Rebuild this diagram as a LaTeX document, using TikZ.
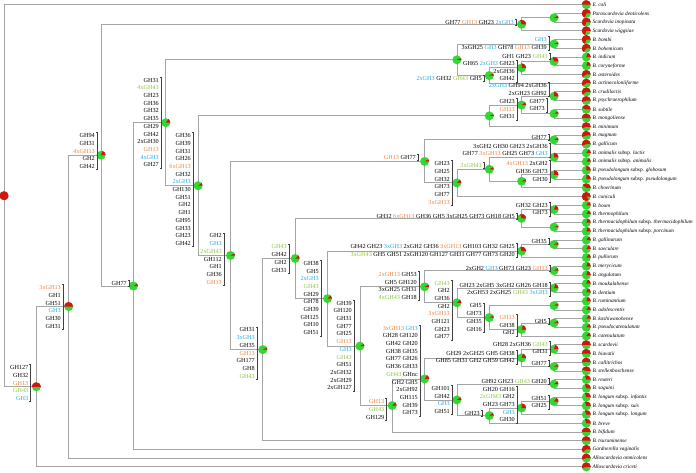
\documentclass[tikz,border=0pt]{standalone}
\usepackage{fontspec}
\setmainfont{Liberation Serif}
\usepackage{xcolor}
\usepackage{tikz}
\usetikzlibrary{positioning, backgrounds}

\definecolor{piegreen}{RGB}{52,214,52}
\definecolor{piered}{RGB}{214,18,18}
\definecolor{ghorange}{RGB}{238,128,58}
\definecolor{ghgreen}{RGB}{140,196,64}
\definecolor{ghblue}{RGB}{38,168,224}
\definecolor{branchgray}{RGB}{165,165,165}

\newcommand{\ghO}[1]{\textcolor{ghorange}{#1}}
\newcommand{\ghG}[1]{\textcolor{ghgreen}{#1}}
\newcommand{\ghB}[1]{\textcolor{ghblue}{#1}}

\begin{document}
\begin{tikzpicture}[
    x=1pt, y=-1pt,
    clade/.style={circle, inner sep=0pt, minimum size=9pt},
    branch/.style={draw=branchgray, line width=0.8pt},
    ghlist/.style={anchor=east, align=right, inner xsep=0pt, inner ysep=0.8pt, font=\fontsize{6.2}{7.7}\selectfont},
    bracket/.style={draw=black!75, line width=0.45pt},
    taxon/.style={anchor=west, inner sep=0pt, font=\fontsize{5.3}{6}\selectfont\itshape}
]
    \useasboundingbox (0,0) rectangle (696,473);

    % Taxa (tips) with their pies
    \foreach \name/\red [count=\i] in {
        E. coli/50, Parascardovia denticolens/70, Scardovia inopinata/70, Scardovia wiggsiae/70,
        B. bombi/70, B. bohemicum/65, B. indicum/20, B. coryneforme/20, B. asteroides/60,
        B. actinocoloniiforme/60, B. crudilactis/60, B. psychraerophilum/55, B. subtile/45,
        B. mongoliense/50, B. minimum/55, B. magnum/55, B. gallicum/55,
        B. animalis \textup{subsp.} lactis/15, B. animalis \textup{subsp.} animalis/15,
        B. pseudolongum \textup{subsp.} globosum/25, B. pseudolongum \textup{subsp.} pseudolongum/25,
        B. choerinum/40, B. cuniculi/85, B. boum/15, B. thermophilum/15,
        B. thermacidophilum \textup{subsp.} thermacidophilum/20, B. thermacidophilum \textup{subsp.} porcinum/20,
        B. gallinarum/15, B. saeculare/15, B. pullorum/15, B. merycicum/20, B. angulatum/20,
        B. moukalabense/20, B. dentium/20, B. ruminantium/20, B. adolescentis/15,
        B. kashiwanohense/15, B. pseudocatenulatum/15, B. catenulatum/15, B. scardovii/50,
        B. biavatii/50, B. callitrichos/50, B. stellenboschense/45, B. reuteri/30, B. saguini/30,
        B. longum \textup{subsp.} infantis/30, B. longum \textup{subsp.} suis/30,
        B. longum \textup{subsp.} longum/30, B. breve/30, B. bifidum/50, B. tsuruminense/50,
        Gardnerella vaginalis/60, Alloscardovia omnicolens/55, Alloscardovia criceti/55} {
        \node[clade] (l\i) at (586.3,{4.7+8.72*(\i-1)}) {};
        \node[taxon, right=1.3pt of l\i] (t\i) {\name};
        \fill[piegreen] (l\i.center) circle (4.5pt);
        \fill[piered] (l\i.center) -- ++(4.5pt,0pt) arc[start angle=0, end angle={3.6*\red}, radius=4.5pt] -- cycle;
    }

    % Internal nodes with their pies
    \foreach \n/\x/\y/\red in {
        nR/4/195.7/100, nA/36.4/386.8/50, nB/68.7/306.6/50, nD/101.1/155.2/20,
        nE/133.4/286.0/8, nF/521.6/24.3/30, nG/554/17.8/8, nH/165.8/122.7/15,
        nI/456.9/59.8/6, nK/554/44/6, nL/489.3/75.6/8, nM/521.6/67.9/25, nN/554/61.4/30,
        nJ/198.1/185.7/10, nS/489.3/115.9/6, nP/521.6/105/10, nO/554/96.3/25, nQ/554/113.7/8,
        nU/230.5/255.5/8, nV/424.6/161.4/8, nX/554/139.9/8, nY/456.9/182.9/12,
        nZ/489.3/169.3/8, nAA/554/157.3/25, nBB/521.6/181.3/8, nCC/554/174.8/25,
        nW/262.8/349.6/8, nGG/295.2/258.5/12, nDD/521.6/218.4/30, nEE/554/209.7/20,
        nFF/554/227.1/6, nHH/327.5/298.6/12, nJJ/521.6/251.1/30, nKK/554/244.5/8,
        nII/359.9/346.1/8, nMM/424.6/286.8/8, nNN/554/270.7/10, nOO/456.9/302.8/12,
        nPP/554/288.1/20, nQQ/489.3/317.6/8, nRR/554/305.6/8, nSS/521.6/329.5/20,
        nTT/554/323/8, nLL/392.2/405.5/12, nUU/424.6/378.9/15, nVV/521.6/357.9/20,
        nWW/554/349.2/20, nXX/554/366.6/8, nYY/456.9/399.9/10, nZZ/554/384.1/10,
        nAB/489.3/415.6/10, nAC/521.6/408/25, nAD/554/401.5/15} {
        \node[clade] (\n) at (\x,\y) {};
        \fill[piegreen] (\n.center) circle (4.5pt);
        \fill[piered] (\n.center) -- ++(4.5pt,0pt) arc[start angle=0, end angle={3.6*\red}, radius=4.5pt] -- cycle;
    }

    % Branches
    \begin{scope}[on background layer]
    \foreach \p/\c in {
        nR/l1, nR/nA, nA/nB, nA/l54, nB/nD, nB/l53, nD/nF, nD/nE, nF/nG, nF/l4, nG/l2, nG/l3,
        nE/nH, nE/l52, nH/nI, nH/nJ, nI/nK, nI/nL, nK/l5, nK/l6, nL/nM, nL/l10, nM/nN, nM/l9,
        nN/l7, nN/l8, nJ/nS, nJ/nU, nS/nP, nS/l15, nP/nO, nP/nQ, nO/l11, nO/l12, nQ/l13, nQ/l14,
        nU/nV, nU/nW, nV/nX, nV/nY, nX/l16, nX/l17, nY/nZ, nY/l23, nZ/nAA, nZ/nBB, nAA/l18,
        nAA/l19, nBB/nCC, nBB/l22, nCC/l20, nCC/l21, nW/nGG, nW/l51, nGG/nDD, nGG/nHH,
        nDD/nEE, nDD/nFF, nEE/l24, nEE/l25, nFF/l26, nFF/l27, nHH/nJJ, nHH/nII, nJJ/nKK,
        nJJ/l30, nKK/l28, nKK/l29, nII/nMM, nII/nLL, nMM/nNN, nMM/nOO, nNN/l31, nNN/l32,
        nOO/nPP, nOO/nQQ, nPP/l33, nPP/l34, nQQ/nRR, nQQ/nSS, nRR/l35, nRR/l36, nSS/nTT,
        nSS/l39, nTT/l37, nTT/l38, nLL/nUU, nLL/l50, nUU/nVV, nUU/nYY, nVV/nWW, nVV/nXX,
        nWW/l40, nWW/l41, nXX/l42, nXX/l43, nYY/nZZ, nYY/nAB, nZZ/l44, nZZ/l45, nAB/nAC,
        nAB/l49, nAC/nAD, nAC/l48, nAD/l46, nAD/l47}
        \draw[branch] (\p.center) |- (\c.center);
    \end{scope}

    % Gene family gains
    \node[ghlist] (gA) at (28.5,383) {GH127\\GH32\\\ghO{GH13}\\\ghG{GH43}\\\ghB{GH3}};
    \node[ghlist] (gB) at (61,307) {\ghO{3xGH13}\\GH1\\GH51\\\ghB{GH3}\\GH30\\GH31};
    \node[ghlist] (gD) at (95,151) {GH94\\GH31\\\ghO{4xGH13}\\GH2\\GH42};
    \node[ghlist] (gE) at (127,283) {GH77};
    \node[ghlist] (gH) at (159,122.5) {GH31\\\ghG{4xGH43}\\GH23\\GH36\\GH32\\GH35\\GH29\\GH42\\2xGH30\\\ghO{GH13}\\\ghB{4xGH3}\\GH27};
    \node[ghlist] (gJ) at (191,189.5) {GH36\\GH39\\GH31\\GH26\\\ghO{6xGH13}\\GH32\\\ghB{2xGH3}\\GH130\\GH51\\GH2\\GH1\\GH95\\GH33\\GH23\\GH42};
    \node[ghlist] (gU) at (222,259) {GH2\\\ghB{GH3}\\\ghG{2xGH43}\\GH112\\GH1\\GH36\\\ghO{GH13}};
    \node[ghlist] (gW) at (255,353) {GH31\\\ghB{3xGH3}\\GH35\\\ghO{GH13}\\GH177\\GH8\\\ghG{GH43}};
    \node[ghlist] (gGG) at (287,258.5) {\ghG{GH43}\\GH42\\GH2\\GH31};
    \node[ghlist] (gHH) at (319,298) {GH38\\GH5\\\ghB{2xGH3}\\\ghG{GH43}\\GH29\\GH78\\GH39\\GH125\\GH10\\GH51};
    \node[ghlist] (gII) at (352,345.5) {GH39\\GH120\\GH31\\GH77\\GH25\\\ghO{GH13}\\\ghB{GH3}\\\ghG{GH43}\\GH51\\2xGH32\\2xGH29\\2xGH127};
    \node[ghlist] (gLL) at (384.5,409.5) {\ghO{GH13}\\\ghG{GH43}\\GH129};
    \node[ghlist] (gUU) at (418,370.5) {\ghO{3xGH13} \ghB{GH3}\\GH28 GH120\\GH42 GH20\\GH38 GH35\\GH77 GH26\\GH36 GH33\\\ghG{GH43} GHnc\\GH2 GH5\\2xGH92\\GH115\\GH39\\GH73};
    \node[ghlist] (gMM) at (417,286) {\ghO{2xGH13} GH53\\GH5 GH120\\3xGH25 GH31\\\ghG{4xGH43} GH18};
    \node[ghlist] (gV) at (416,157) {\ghO{GH13} GH77};
    \node[ghlist] (gY) at (450,183) {GH23\\GH25\\GH32\\GH73\\GH77\\\ghO{3xGH13}};
    \node[ghlist] (gZ) at (482,165) {\ghG{3xGH43}};
    \node[ghlist] (gAA) at (548,150) {3xGH2 GH30 GH23 2xGH36\\GH77 \ghO{3xGH13} GH25 GH73 \ghB{GH3}};
    \node[ghlist] (gCC) at (548,171.5) {\ghO{4xGH13} 2xGH2\\GH36 GH73\\GH30};
    \node[ghlist] (gX) at (547,137) {GH77};
    \node[ghlist] (gK) at (547,43.5) {\ghB{GH3}\\3xGH25 \ghB{GH3} GH78 \ghO{GH13} GH39};
    \node[ghlist] (gN) at (548,56) {GH1 GH23 \ghG{GH43}};
    \node[ghlist] (gM) at (515,71) {GH65 \ghB{2xGH3} GH23\\2xGH36\\GH42};
    \node[ghlist] (gL) at (482,78.5) {\ghB{2xGH3} GH32 \ghG{GH43} GH5};
    \node[ghlist] (gO) at (547,89.5) {\ghB{2xGH3} GH94 2xGH36\\2xGH23 GH92};
    \node[ghlist] (gP) at (515,109) {GH23\\\ghO{GH13}\\GH31};
    \node[ghlist] (gQ) at (545,105) {GH77\\GH73};
    \node[ghlist] (gF) at (514,22) {GH77 \ghO{GH13} GH23 \ghB{2xGH3}};
    \node[ghlist] (gDD) at (515,216) {GH32 \ghO{6xGH13} GH36 GH5 3xGH25 GH73 GH18 GH5};
    \node[ghlist] (gEE) at (548,209) {GH32 GH23\\GH73};
    \node[ghlist] (gJJ) at (515,250.5) {GH42 GH23 \ghB{3xGH3} 2xGH2 GH36 \ghO{3xGH13} GH103 GH32 GH25\\\ghG{3xGH43} GH5 GH51 2xGH120 GH127 GH31 GH77 GH73 GH20};
    \node[ghlist] (gKK) at (547,241.5) {GH35};
    \node[ghlist] (gNN) at (548,268) {2xGH2 \ghB{GH3} GH73 GH23 \ghO{GH13}};
    \node[ghlist] (gOO) at (450,310) {\ghG{GH43}\\GH2\\GH36\\GH2\\\ghO{3xGH13}\\GH121\\GH23\\GH77};
    \node[ghlist] (gPP) at (548,289) {GH23 2xGH5 3xGH2 GH26 GH18\\2xGH53 2xGH25 \ghG{GH43} \ghB{3xGH3}};
    \node[ghlist] (gQQ) at (482,317.5) {GH5\\GH73\\GH35\\GH16};
    \node[ghlist] (gSS) at (515,325) {\ghO{GH13}\\GH38\\GH2};
    \node[ghlist] (gTT) at (547,321) {GH5};
    \node[ghlist] (gVV) at (515,357) {GH29 2xGH25 GH5 GH38\\GH85 GH31 GH2 GH59 GH42};
    \node[ghlist] (gWW) at (548,348) {GH28 2xGH36 \ghG{GH43}\\GH31};
    \node[ghlist] (gXX) at (547,363) {GH77};
    \node[ghlist] (gYY) at (450,400) {GH101\\GH42\\\ghB{GH3}\\GH51};
    \node[ghlist] (gZZ) at (547,381) {GH92 GH23 \ghG{GH43} GH20};
    \node[ghlist] (gAB) at (480,413) {GH23};
    \node[ghlist] (gAC) at (515,404.5) {GH20 GH16\\\ghG{2xGH43} GH2\\GH23 GH73\\\ghB{GH3}\\GH30};
    \node[ghlist] (gAD) at (547,402) {GH51\\GH25};

    % Brackets
    \foreach \g in {gA, gB, gD, gE, gH, gJ, gU, gW, gGG, gHH, gII, gLL, gUU, gMM, gV, gY, gZ,
        gAA, gCC, gX, gK, gN, gM, gL, gO, gP, gQ, gF, gDD, gEE, gJJ, gKK, gNN, gOO, gPP,
        gQQ, gSS, gTT, gVV, gWW, gXX, gYY, gZZ, gAB, gAC, gAD}
        \draw[bracket] ([xshift=0.8pt]\g.north east) -- ++(1.4pt,0pt) |- ([xshift=0.8pt]\g.south east);
\end{tikzpicture}
\end{document}
